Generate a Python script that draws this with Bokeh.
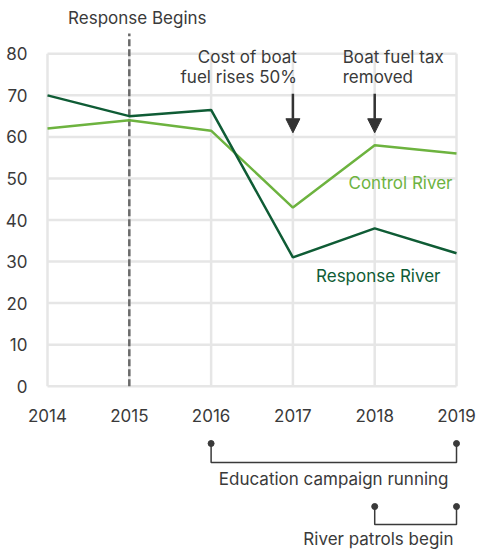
from bokeh.plotting import figure
from bokeh.models import Range1d, FixedTicker, Arrow, NormalHead
from bokeh.layouts import column
from bokeh.embed import file_html
from bokeh.resources import INLINE
from bokeh.core.properties import value

# ---- data ----
years = [2014, 2015, 2016, 2017, 2018, 2019]
response_river = [70, 65, 66.5, 31, 38, 32]
control_river = [62, 64, 61.5, 43, 58, 56]
y_ticks = [0, 10, 20, 30, 40, 50, 60, 70, 80]
response_start = 2015
event_years = [2017, 2018]
event_texts = ["Cost of boat\nfuel rises 50%", "Boat fuel tax\nremoved"]
period_starts = [2016, 2018]
period_ends = [2019, 2019]
period_texts = ["Education campaign running", "River patrols begin"]

# ---- style ----
FONT = "Inter"
TXT = "#3a3a3a"
DARK = "#0f5c35"
LIGHT = "#6db33f"
GRID = "#e6e6e6"
FS = "17px"

xr = Range1d(2013.9144, 2019.171)

p = figure(width=477, height=424, x_range=xr, y_range=Range1d(-1.03, 92.83),
           output_backend="svg", toolbar_location=None,
           min_border_left=40, min_border_right=7, min_border_top=0, min_border_bottom=34)
p.outline_line_color = None
p.xgrid.visible = False
p.ygrid.visible = False

# axes
p.yaxis.ticker = FixedTicker(ticks=y_ticks)
p.xaxis.ticker = FixedTicker(ticks=years)
for ax in (p.xaxis, p.yaxis):
    ax.axis_line_color = None
    ax.major_tick_line_color = None
    ax.minor_tick_line_color = None
    ax.major_label_text_font = FONT
    ax.major_label_text_font_size = FS
    ax.major_label_text_color = TXT
p.yaxis.major_tick_out = 0
p.yaxis.major_tick_in = 0
p.yaxis.major_label_standoff = 13
p.xaxis.major_label_standoff = 12

# grid drawn only over data extent
p.segment(x0=years, y0=[y_ticks[0]] * len(years), x1=years, y1=[y_ticks[-1]] * len(years),
          line_color=GRID, line_width=2.5)
p.segment(x0=[years[0]] * len(y_ticks), y0=y_ticks, x1=[years[-1]] * len(y_ticks), y1=y_ticks,
          line_color=GRID, line_width=2.5)

# response begins dashed line
p.segment(x0=[response_start], y0=[0], x1=[response_start], y1=[84.9],
          line_color="#6a6a6a", line_width=2.5, line_dash="7 3")
p.text(x=[response_start], y=[88.7], text=["Response Begins"], x_offset=8,
       text_align="center", text_baseline="middle", text_font=value(FONT),
       text_font_size=FS, text_color=TXT)

# series
p.line(years, control_river, line_color=LIGHT, line_width=2.5)
p.line(years, response_river, line_color=DARK, line_width=2.5)

p.text(x=[years[-1]], y=[48.8], text=["Control River"], x_offset=-4,
       text_align="right", text_baseline="middle", text_font=value(FONT),
       text_font_size=FS, text_color=LIGHT)
p.text(x=[years[-1]], y=[26.6], text=["Response River"], x_offset=-16,
       text_align="right", text_baseline="middle", text_font=value(FONT),
       text_font_size=FS, text_color=DARK)

# event annotations
p.text(x=[event_years[0]], y=[76.9], text=[event_texts[0]], x_offset=4,
       text_align="right", text_baseline="middle", text_font=value(FONT),
       text_font_size=FS, text_color=TXT, text_line_height=1.0)
p.text(x=[event_years[1]], y=[76.9], text=[event_texts[1]], x_offset=-32,
       text_align="left", text_baseline="middle", text_font=value(FONT),
       text_font_size=FS, text_color=TXT, text_line_height=1.0)
for ey in event_years:
    p.add_layout(Arrow(x_start=ey, y_start=70.4, x_end=ey, y_end=61.0,
                       line_color="#333333", line_width=2.5,
                       end=NormalHead(size=14, fill_color="#333333", line_color="#333333")))

# ---- bottom brackets ----
b = figure(width=477, height=125, x_range=xr, y_range=Range1d(125, 0),
           output_backend="svg", toolbar_location=None,
           min_border_left=40, min_border_right=7, min_border_top=0, min_border_bottom=0)
b.outline_line_color = None
b.axis.visible = False
b.grid.visible = False

row_top = [19, 82]
row_bot = [38, 100]
row_txt = [54, 114]
xs, ys = [], []
for s, e, t, bt in zip(period_starts, period_ends, row_top, row_bot):
    xs.append([s, s, e, e])
    ys.append([t, bt, bt, t])
b.multi_line(xs=xs, ys=ys, line_color="#3a3a3a", line_width=1.5)
b.scatter(x=period_starts + period_ends, y=row_top + row_top, size=6,
          fill_color="#3a3a3a", line_color="#3a3a3a")
b.text(x=[period_ends[0]], y=[row_txt[0]], text=[period_texts[0]], x_offset=-8,
       text_align="right", text_baseline="middle", text_font=value(FONT),
       text_font_size=FS, text_color=TXT)
b.text(x=[period_ends[1]], y=[row_txt[1]], text=[period_texts[1]], x_offset=-3,
       text_align="right", text_baseline="middle", text_font=value(FONT),
       text_font_size=FS, text_color=TXT)

layout = column(p, b, spacing=0)
open("out.html", "w").write(file_html(layout, INLINE))
